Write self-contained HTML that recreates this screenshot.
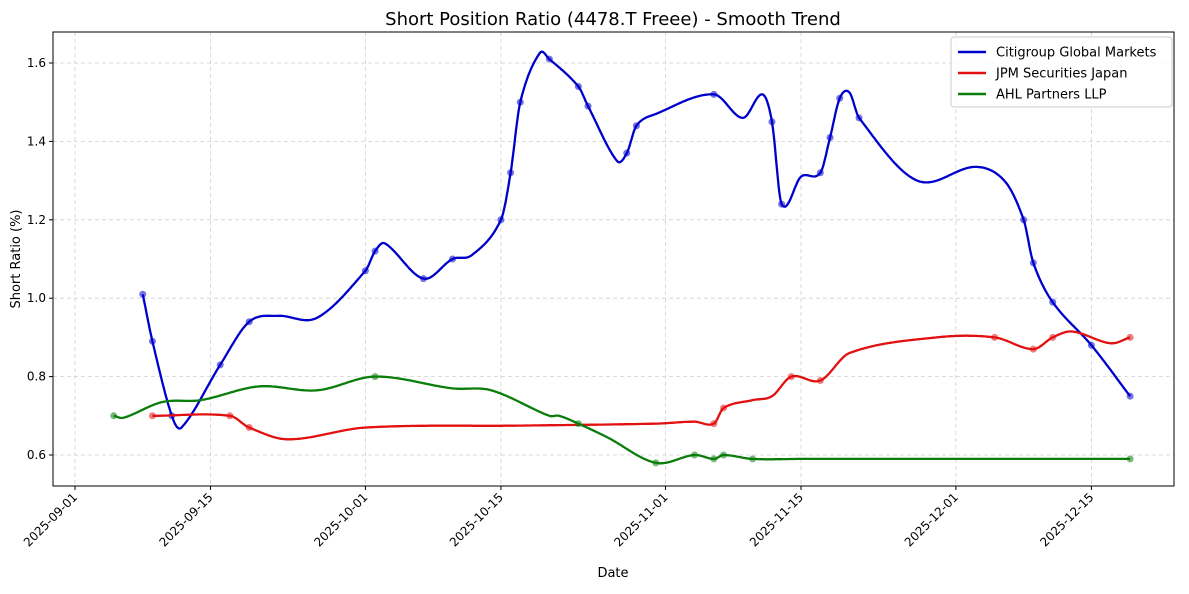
<!DOCTYPE html>
<html><head><meta charset="utf-8"><style>
body{margin:0;background:#fff;font-family:"Liberation Sans","DejaVu Sans",sans-serif}
svg text{font-family:"DejaVu Sans","Liberation Sans",sans-serif}
</style></head><body>
<svg id="chart" width="1189" height="589" viewBox="0 0 1189 589" xmlns="http://www.w3.org/2000/svg">
<rect width="1189" height="589" fill="#fff"/>
<g id="grid"></g><g id="series"></g><g id="axes"></g>
</svg>
<script>
// reported points (drawn with markers)
const citiDates=["2025-09-08","2025-09-09","2025-09-11","2025-09-16","2025-09-19","2025-10-01","2025-10-02","2025-10-07","2025-10-10","2025-10-15","2025-10-16","2025-10-17","2025-10-20","2025-10-23","2025-10-24","2025-10-28","2025-10-29","2025-11-06","2025-11-12","2025-11-13","2025-11-17","2025-11-18","2025-11-19","2025-11-21","2025-12-08","2025-12-09","2025-12-11","2025-12-15","2025-12-19"];
const citiValues=[1.01,0.89,0.70,0.83,0.94,1.07,1.12,1.05,1.10,1.20,1.32,1.50,1.61,1.54,1.49,1.37,1.44,1.52,1.45,1.24,1.32,1.41,1.51,1.46,1.20,1.09,0.99,0.88,0.75];
const jpmDates=["2025-09-09","2025-09-17","2025-09-19","2025-11-06","2025-11-07","2025-11-14","2025-11-17","2025-12-05","2025-12-09","2025-12-11","2025-12-19"];
const jpmValues=[0.70,0.70,0.67,0.68,0.72,0.80,0.79,0.90,0.87,0.90,0.90];
const ahlDates=["2025-09-05","2025-10-02","2025-10-23","2025-10-31","2025-11-04","2025-11-06","2025-11-07","2025-11-10","2025-12-19"];
const ahlValues=[0.70,0.80,0.68,0.58,0.60,0.59,0.60,0.59,0.59];
// smoothed-trend values read off the curve between reported points (no markers)
const citiTrendDates=["2025-09-12","2025-09-22","2025-09-26","2025-10-03","2025-10-12","2025-10-19","2025-10-27","2025-10-31","2025-11-09","2025-11-11","2025-11-15","2025-11-20","2025-11-27","2025-12-03","2025-12-06"];
const citiTrendValues=[0.67,0.955,0.95,1.14,1.11,1.625,1.35,1.47,1.46,1.52,1.31,1.525,1.30,1.335,1.30];
const jpmTrendDates=["2025-09-23","2025-10-01","2025-10-17","2025-10-31","2025-11-04","2025-11-10","2025-11-12","2025-11-20","2025-11-29","2025-12-13","2025-12-17"];
const jpmTrendValues=[0.64,0.67,0.675,0.68,0.685,0.74,0.75,0.86,0.90,0.915,0.885];
const ahlTrendDates=["2025-09-06","2025-09-10","2025-09-14","2025-09-20","2025-09-26","2025-10-10","2025-10-14","2025-10-20","2025-10-21","2025-10-26","2025-11-15"];
const ahlTrendValues=[0.695,0.735,0.74,0.775,0.765,0.77,0.765,0.70,0.70,0.645,0.59];
const yTicks=[0.6,0.8,1.0,1.2,1.4,1.6];
const xTicks=["2025-09-01","2025-09-15","2025-10-01","2025-10-15","2025-11-01","2025-11-15","2025-12-01","2025-12-15"];
const seriesNames=["Citigroup Global Markets","JPM Securities Japan","AHL Partners LLP"];

const NS="http://www.w3.org/2000/svg";
const L=53,R=1174,T=32,B=486;
const D0=Date.UTC(2025,8,1);
function day(s){const p=s.split("-");return (Date.UTC(+p[0],p[1]-1,+p[2])-D0)/864e5;}
const xs=d=>75+d*9.68;
const ys=v=>455-(v-0.6)*392;
function mk(tag,attrs,parent){const e=document.createElementNS(NS,tag);for(const k in attrs)e.setAttribute(k,attrs[k]);parent.appendChild(e);return e;}
const grid=document.getElementById('grid'),axes=document.getElementById('axes'),ser=document.getElementById('series');

yTicks.forEach(v=>{
 const g=mk('line',{x1:L,x2:R,y1:ys(v),y2:ys(v),stroke:'#d0d0d0','stroke-dasharray':'4,3','stroke-width':0.8},grid);
 
 
 mk('line',{x1:L-4,x2:L,y1:ys(v),y2:ys(v),stroke:'#000'},axes);
 const t=mk('text',{x:L-7,y:ys(v)+4,'text-anchor':'end','font-size':12},axes);
 t.textContent=v.toFixed(1);
 
 
});
xTicks.forEach(s=>{
 const x=xs(day(s));
 const g=mk('line',{x1:x,x2:x,y1:T,y2:B,stroke:'#d0d0d0','stroke-dasharray':'4,3','stroke-width':0.8},grid);
 
 
 mk('line',{x1:x,x2:x,y1:B,y2:B+4,stroke:'#000'},axes);
 const t=mk('text',{x:x+3,y:B+12,'text-anchor':'end','font-size':12,transform:`rotate(-45 ${x+3} ${B+12})`},axes);
 t.textContent=s;
 
 
});
mk('rect',{x:L,y:T,width:R-L,height:B-T,fill:'none',stroke:'#000','stroke-width':1},axes);

function hermite(X,Y){
 const n=X.length,m=[];
 for(let i=0;i<n;i++){
  if(i===0)m.push((Y[1]-Y[0])/(X[1]-X[0]));
  else if(i===n-1)m.push((Y[n-1]-Y[n-2])/(X[n-1]-X[n-2]));
  else m.push((Y[i+1]-Y[i-1])/(X[i+1]-X[i-1]));
 }
 return x=>{let i=0;while(i<n-2&&x>X[i+1])i++;const h=X[i+1]-X[i],t=(x-X[i])/h,t2=t*t,t3=t2*t;
  return (2*t3-3*t2+1)*Y[i]+(t3-2*t2+t)*h*m[i]+(-2*t3+3*t2)*Y[i+1]+(t3-t2)*h*m[i+1];};
}
const colors=['#0000cd','#e31010','#0a7d0a'];
const keys=['citi','jpm','ahl'];
[[citiDates,citiValues,citiTrendDates,citiTrendValues],[jpmDates,jpmValues,jpmTrendDates,jpmTrendValues],[ahlDates,ahlValues,ahlTrendDates,ahlTrendValues]].forEach(([ds,vs,td,tv],k)=>{
 const pts=ds.map((d,i)=>[day(d),vs[i]]).concat(td.map((d,i)=>[day(d),tv[i]])).sort((a,b)=>a[0]-b[0]);
 const X=pts.map(p=>p[0]),Y=pts.map(p=>p[1]);
 const f=hermite(X,Y);let p='';
 for(let x=X[0];x<=X[X.length-1]+1e-9;x+=0.1){p+=(p?'L':'M')+xs(x).toFixed(1)+','+ys(f(x)).toFixed(1);}
 const pe=mk('path',{d:p,fill:'none',stroke:colors[k],'stroke-width':2.3},ser);
 
 
 ds.forEach((d,i)=>{const c=mk('circle',{cx:xs(day(d)),cy:ys(vs[i]),r:3.5,fill:colors[k],'fill-opacity':0.55},ser);
  
  });
});
let t=mk('text',{x:613,y:25,'text-anchor':'middle','font-size':18},axes);t.textContent='Short Position Ratio (4478.T Freee) - Smooth Trend';


t=mk('text',{x:613,y:577,'text-anchor':'middle','font-size':13},axes);t.textContent='Date';


t=mk('text',{x:20,y:259,'text-anchor':'middle','font-size':13,transform:'rotate(-90 20 259)'},axes);t.textContent='Short Ratio (%)';


const lg=mk('g',{},axes);


mk('rect',{x:951,y:37,width:221,height:70,rx:3,fill:'#fff','fill-opacity':0.85,stroke:'#ccc'},lg);
seriesNames.forEach((n,i)=>{const y=52+i*21;
 mk('line',{x1:958,x2:986,y1:y,y2:y,stroke:colors[i],'stroke-width':2.5},lg);
 const tx=mk('text',{x:996,y:y+4.5,'font-size':13},lg);tx.textContent=n;
 
 });
</script>
</body></html>
